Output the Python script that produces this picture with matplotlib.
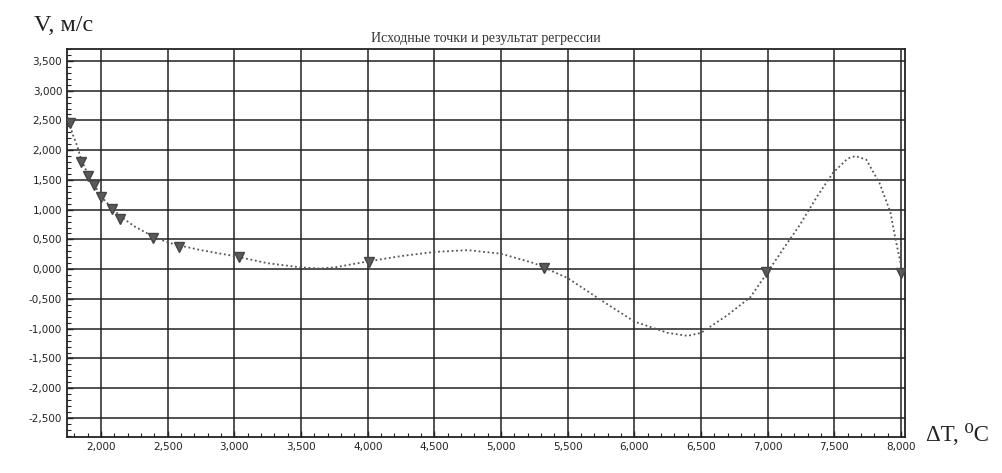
import matplotlib
matplotlib.use("Agg")
import matplotlib.pyplot as plt
from matplotlib.ticker import MultipleLocator, FuncFormatter

# Source points (triangles)
x_pts = [1.765, 1.85, 1.90, 1.95, 2.00, 2.085, 2.145, 2.39, 2.585, 3.035, 4.01, 5.32, 6.99, 8.00]
y_pts = [2.45, 1.80, 1.56, 1.42, 1.22, 1.01, 0.85, 0.52, 0.38, 0.20, 0.12, 0.02, -0.05, -0.06]

# Regression curve
x_fit = [1.75, 1.79, 1.82, 1.85, 1.90, 1.95, 2.00, 2.085, 2.15, 2.25, 2.39, 2.50, 2.585, 2.75,
         3.00, 3.25, 3.50, 3.64, 3.75, 4.00, 4.25, 4.50, 4.75, 5.00, 5.25, 5.50, 5.75, 6.00,
         6.25, 6.40, 6.50, 6.70, 6.87, 7.00, 7.11, 7.24, 7.37, 7.49, 7.60, 7.66, 7.74, 7.84,
         7.92, 7.96, 7.99, 8.01]
y_fit = [2.55, 2.25, 2.08, 1.85, 1.60, 1.42, 1.22, 1.02, 0.88, 0.72, 0.55, 0.45, 0.40, 0.32,
         0.22, 0.10, 0.03, 0.01, 0.03, 0.13, 0.22, 0.29, 0.32, 0.26, 0.10, -0.15, -0.52, -0.88,
         -1.07, -1.12, -1.07, -0.77, -0.47, -0.05, 0.32, 0.74, 1.22, 1.62, 1.86, 1.90, 1.84, 1.44,
         0.96, 0.49, 0.18, -0.07]

title = "Исходные точки и результат регрессии"
ylabel = "V, м/с"
xlabel = "ΔT, ⁰C"

serif = ["Liberation Serif", "DejaVu Serif", "DejaVu Sans"]

fig = plt.figure(figsize=(10.02, 4.73), dpi=100)
ax = fig.add_axes([0.0669, 0.0761, 0.8363, 0.8203])

ax.plot(x_fit, y_fit, linestyle=(0, (1, 1.5)), color="#555555", lw=1.3, zorder=3)
ax.plot(x_pts, y_pts, linestyle="none", marker="v", markersize=7, color="#5a5a5a",
        markeredgecolor="#444444", zorder=4)

ax.set_xlim(1.745, 8.03)
ax.set_ylim(-2.82, 3.70)

fmt = FuncFormatter(lambda v, p: ("{:.3f}".format(v)).replace(".", ",").replace("-0,000", "0,000"))
ax.xaxis.set_major_locator(MultipleLocator(0.5))
ax.yaxis.set_major_locator(MultipleLocator(0.5))
ax.xaxis.set_minor_locator(MultipleLocator(0.1))
ax.yaxis.set_minor_locator(MultipleLocator(0.1))
ax.xaxis.set_major_formatter(fmt)
ax.yaxis.set_major_formatter(fmt)

ax.grid(True, which="major", color="#222222", lw=1.1)
ax.tick_params(which="major", direction="in", length=4, width=1, labelsize=7.5, colors="#222222")
ax.tick_params(which="minor", direction="in", length=3, width=0.8, colors="#222222")
for s in ax.spines.values():
    s.set_color("#222222")
    s.set_linewidth(1.3)

ax.set_title(title, fontsize=10, family=serif, color="#333333", pad=5)
fig.text(0.034, 0.947, ylabel, fontsize=17.5, family=serif, color="#222222",
         ha="left", va="center")
fig.text(0.924, 0.080, xlabel, fontsize=16.5, family=serif, color="#222222",
         ha="left", va="center")

fig.savefig("out.png", dpi=100)
